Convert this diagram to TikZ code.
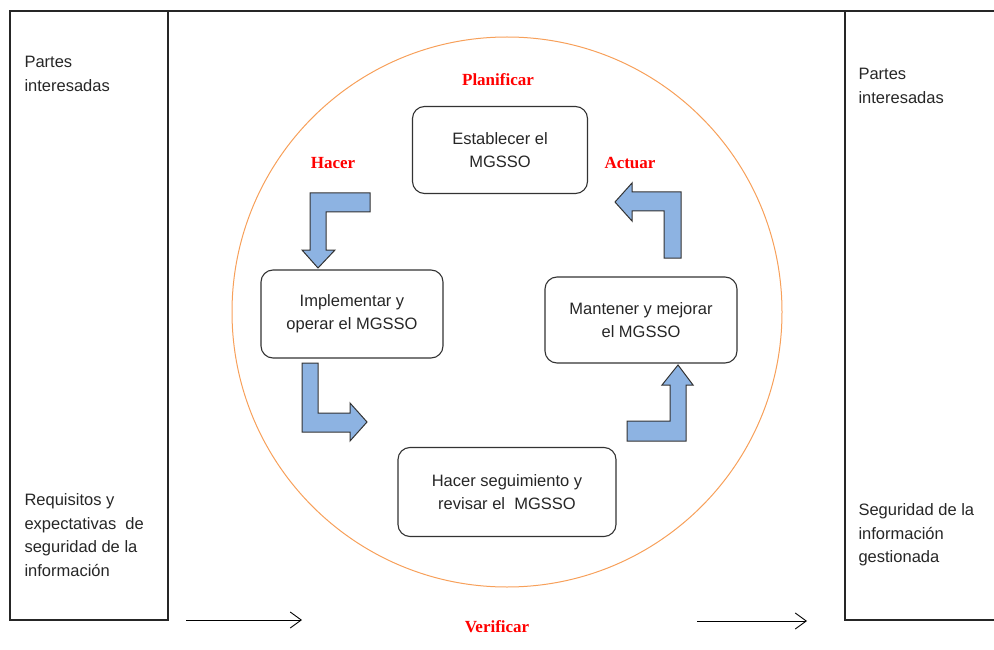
\documentclass[tikz,border=0pt]{standalone}
\usepackage{fontspec}
\setmainfont{Liberation Sans}
\newfontfamily\phasefont{Liberation Serif}
\usetikzlibrary{arrows.meta}

\definecolor{ringorange}{RGB}{247,160,90}
\definecolor{bendblue}{RGB}{141,179,226}

\begin{document}
\begin{tikzpicture}[x=1pt,y=-1pt,every path/.style={line width=1.1pt},
  frame/.style={draw=black!85},
  stage/.style={draw=black!80,rectangle,rounded corners=12pt,align=center,
    font=\fontsize{16.5}{23}\selectfont,text=black!85},
  phase/.style={text=red,font=\phasefont\bfseries\fontsize{17}{20}\selectfont},
  side/.style={anchor=west,align=left,inner sep=0pt,
    font=\fontsize{16.5}{23.5}\selectfont,text=black!85},
  bentarrow/.style={draw=black!80,fill=bendblue,line width=1pt,line join=miter},
  flow/.style={line width=0.9pt,-{Straight Barb[length=11pt,width=16pt,line width=0.9pt]}}]

\useasboundingbox (0,0) rectangle (994,650);

% outer frame
\draw[frame] (10,11) -- (1000,11);
\draw[frame] (10,11) rectangle (168,620);
\draw[frame] (1000,620) -- (845,620) -- (845,11);

% side texts
\node (inTop) [side] at (24,74) {Partes\\interesadas};
\node (inBot) [side] at (24,535) {Requisitos y\\expectativas\ \ de\\seguridad de la\\informaci\'on};
\node (outTop) [side] at (858,86) {Partes\\interesadas};
\node (outBot) [side] at (858,535) {Seguridad de la\\informaci\'on\\gestionada};

% cycle
\draw[draw=ringorange,line width=1pt] (507,312) circle[radius=275pt];

\node (plan) [stage,minimum width=175pt,minimum height=87pt] at (500,150) {Establecer el\\MGSSO};
\node (do) [stage,minimum width=182pt,minimum height=88pt] at (352,314) {Implementar y\\operar el MGSSO};
\node (act) [stage,minimum width=192pt,minimum height=86pt] at (641,320) {Mantener y mejorar\\el MGSSO};
\node (check) [stage,minimum width=218pt,minimum height=89pt] at (507,492) {Hacer seguimiento y\\revisar el\ \ MGSSO};

\node (planLbl) [phase] at (498,80) {Planificar};
\node (doLbl) [phase] at (333,163) {Hacer};
\node (actLbl) [phase] at (630,163) {Actuar};
\node (checkLbl) [phase] at (497,627) {Verificar};

% bent arrows
\draw[bentarrow] (370,193) -- (310,193) -- (310,250) -- (302,250) -- (318,268)
  -- (335,250) -- (326,250) -- (326,212) -- (370,212) -- cycle;
\draw[bentarrow] (302,363) -- (318,363) -- (318,413) -- (350,413) -- (350,403)
  -- (367,422) -- (350,441) -- (350,432) -- (302,432) -- cycle;
\draw[bentarrow] (627,441) -- (686,441) -- (686,385) -- (693,385) -- (678,365)
  -- (662,385) -- (670,385) -- (670,421) -- (627,421) -- cycle;
\draw[bentarrow] (681,258) -- (664,258) -- (664,211) -- (632,211) -- (632,221)
  -- (615,202) -- (632,183) -- (632,192) -- (681,192) -- cycle;

% input / output
\coordinate (inStart) at (186,620);
\coordinate (inEnd) at (302,620);
\coordinate (outStart) at (697,621);
\coordinate (outEnd) at (807,621);
\draw[flow] (inStart) -- (inEnd);
\draw[flow] (outStart) -- (outEnd);

\end{tikzpicture}
\end{document}
